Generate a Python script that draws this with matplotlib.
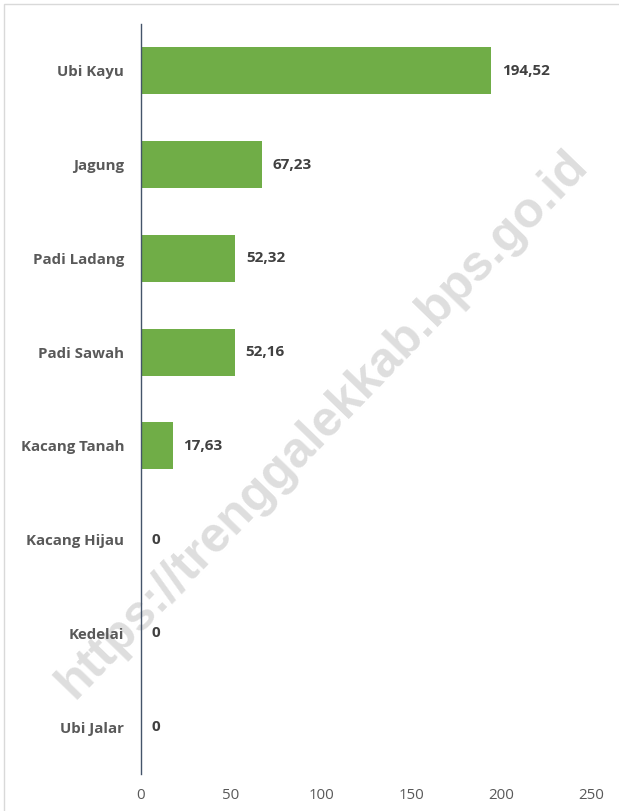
import numpy as np
import matplotlib.pyplot as plt
from matplotlib.patches import Rectangle

# data
komoditas = ["Ubi Kayu", "Jagung", "Padi Ladang", "Padi Sawah",
             "Kacang Tanah", "Kacang Hijau", "Kedelai", "Ubi Jalar"]
nilai = [194.52, 67.23, 52.32, 52.16, 17.63, 0, 0, 0]
xticks = [0, 50, 100, 150, 200, 250]

fig = plt.figure(figsize=(6.19, 8.11), dpi=100)
ax = fig.add_axes([141 / 619, 1 - 774 / 811, 450 / 619, 750 / 811])
ax.patch.set_alpha(0)
ax.set_zorder(1)

y = np.arange(len(komoditas))
ax.barh(y, nilai, height=0.5, color="#70AD47", zorder=2)

for yi, v in zip(y, nilai):
    txt = "0" if v == 0 else f"{v:.2f}".replace(".", ",")
    ax.text(v + 6, yi, txt, va="center", ha="left", fontsize=11,
            fontweight="bold", color="#404040", family="Open Sans", zorder=3)

ax.set_xlim(0, 250)
ax.set_ylim(len(komoditas) - 0.5, -0.5)
ax.set_yticks(y)
ax.set_yticklabels(komoditas, fontsize=10.8, fontweight="bold",
                   color="#595959", family="Open Sans")
ax.set_xticks(xticks)
ax.set_xticklabels([str(t) for t in xticks], fontsize=10.8, color="#595959",
                   family="Open Sans")
ax.tick_params(axis="y", length=0, pad=12)
ax.tick_params(axis="x", length=0, pad=10)

for s in ["top", "right", "bottom"]:
    ax.spines[s].set_visible(False)
ax.spines["left"].set_color("#44546A")
ax.spines["left"].set_linewidth(1.0)

# bingkai tipis abu-abu
fig.patches.append(Rectangle((4 / 619, -0.01), 1.0, 1 - 4 / 811 + 0.01,
                             transform=fig.transFigure, fill=False,
                             edgecolor="#D9D9D9", linewidth=1.0))

# watermark (di belakang grafik)
fig.text(322 / 619, 1 - 424 / 811, "https://trenggalekkab.bps.go.id",
         rotation=46, ha="center", va="center", fontsize=36,
         fontweight="bold", color="#DEDEDE", family="Liberation Sans",
         zorder=0)

fig.savefig("out.png", dpi=100)
